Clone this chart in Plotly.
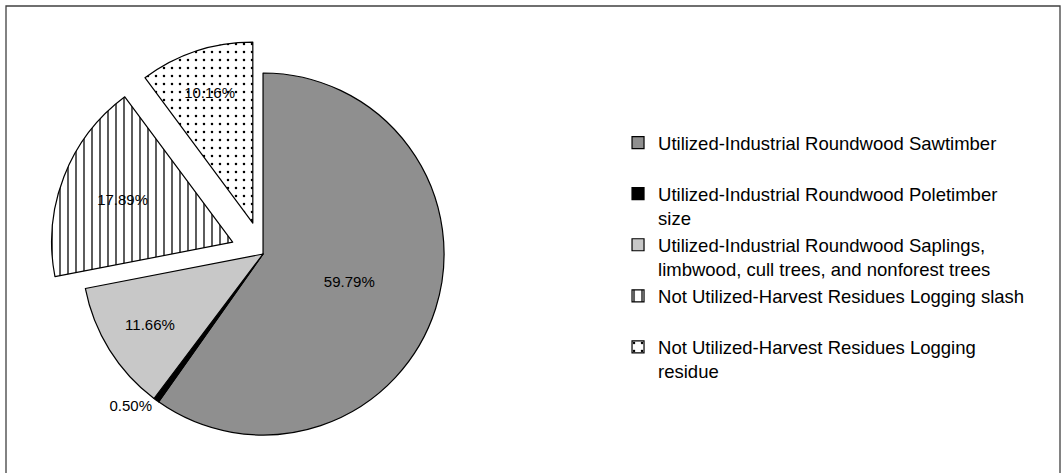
import plotly.graph_objects as go

# ---- data ----
categories = [
    "Utilized-Industrial Roundwood Sawtimber",
    "Utilized-Industrial Roundwood Poletimber<br>size",
    "Utilized-Industrial Roundwood Saplings,<br>limbwood, cull trees, and nonforest trees",
    "Not Utilized-Harvest Residues Logging slash",
    "Not Utilized-Harvest Residues Logging<br>residue",
]
shares = [59.79, 0.50, 11.66, 17.89, 10.16]

# ---- styles ----
fill_colors = ["#8f8f8f", "#000000", "#c8c8c8", "#ffffff", "#ffffff"]
pattern_shapes = ["", "", "", "|", "."]
pattern_solidity = [0.1, 0.1, 0.1, 0.16, 0.08]
pulls = [0, 0, 0, 0.18, 0.18]
text_positions = ["inside", "outside", "inside", "inside", "inside"]

# pad single-line legend entries to two lines so every entry gets the same slot
legend_labels = [c if "<br>" in c else c + "<br>\u00a0" for c in categories]

fig = go.Figure(
    go.Pie(
        labels=legend_labels,
        values=shares,
        sort=False,
        direction="clockwise",
        rotation=0,
        pull=pulls,
        texttemplate="%{value:.2f}%",
        textposition=text_positions,
        insidetextorientation="horizontal",
        textfont=dict(family="Liberation Sans, Arial, sans-serif", size=15, color="#000000"),
        marker=dict(
            colors=fill_colors,
            line=dict(color="#000000", width=1.2),
            pattern=dict(
                shape=pattern_shapes,
                fgcolor="#000000",
                bgcolor=fill_colors,
                size=8,
                solidity=pattern_solidity,
            ),
        ),
        domain=dict(x=[0.0465, 0.4484], y=[0.0114, 0.9146]),
        automargin=False,
        hoverinfo="label+percent",
    )
)

fig.update_layout(
    width=1063,
    height=473,
    autosize=False,
    margin=dict(l=0, r=0, t=0, b=0, pad=0, autoexpand=False),
    paper_bgcolor="#ffffff",
    plot_bgcolor="#ffffff",
    font=dict(family="Liberation Sans, Arial, sans-serif", color="#000000"),
    uniformtext=dict(minsize=15, mode="show"),
    showlegend=True,
    legend=dict(
        x=0.5814,
        y=0.7378,
        xanchor="left",
        yanchor="top",
        valign="top",
        font=dict(size=18.5, color="#000000"),
        bgcolor="rgba(0,0,0,0)",
        traceorder="normal",
    ),
    shapes=[
        dict(
            type="rect",
            xref="paper",
            yref="paper",
            x0=6 / 1063,
            x1=1060 / 1063,
            y0=-2 / 473,
            y1=1 - 6 / 473,
            line=dict(color="#404040", width=1.3),
            fillcolor="rgba(0,0,0,0)",
            layer="above",
        )
    ],
)

fig.write_html(
    "out.html",
    config={"displayModeBar": False},
    post_script="document.body.style.margin='0';document.body.style.overflow='hidden';",
)
